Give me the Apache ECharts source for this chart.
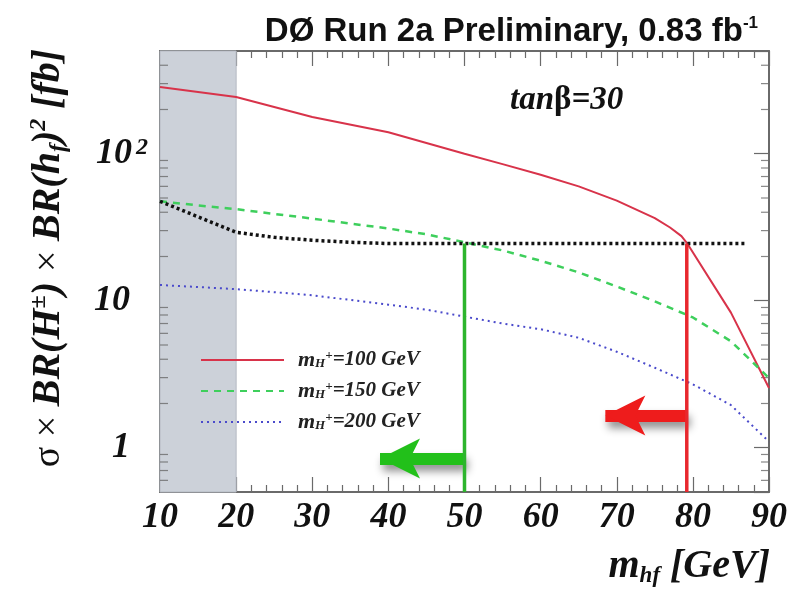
<!DOCTYPE html>
<html>
<head>
<meta charset="utf-8">
<script src="https://cdn.jsdelivr.net/npm/echarts@6/dist/echarts.min.js"></script>
<style>html,body{margin:0;padding:0;background:#fff;}#c{width:799px;height:590px;}</style>
</head>
<body>
<div id="c"></div>
<script>
// ---- data ----
const curve100 = [[10,284],[20,243],[30,178],[40,140],[50,100],[55,85],[60,72],[65,60],[70,48],[75,36.5],[77,31.5],[78.5,27.5],[79.2,24.8],[85,8.3],[90,2.55]];
const curve150 = [[10,47.5],[15,44.5],[20,42],[30,36.2],[40,31],[45,28.3],[50,25],[55,22],[60,18.7],[65,15.6],[70,12.5],[75,9.9],[80,7.7],[85,5.3],[90,2.98]];
const curve200 = [[10,12.8],[20,12.0],[30,10.9],[40,9.4],[45,8.7],[50,7.8],[55,7.0],[60,6.4],[65,5.6],[70,4.5],[75,3.5],[80,2.7],[85,1.95],[90,1.1]];
const expLimit = [[10,47.5],[20,29.2],[25,27],[30,25.8],[35,25],[40,24.5],[87,24.5]];
const limitGreen = [[50,0.5],[50,24.5]];
const limitRed = [[79.2,0.5],[79.2,24.5]];
const arrowGreen = [[50,0.845],[38.9,0.845]];
const arrowRed = [[79.2,1.66],[68.5,1.66]];
const excludedBand = [10,20];
const xRange = [10,90];
const yRange = [0.5,500];
const yTickValues = [1,10,100];
const yMinorTicks = [0.6,0.7,0.8,0.9,2,3,4,5,6,7,8,9,20,30,40,50,60,70,80,90,200,300,400];
const seriesNames = ['m100','m150','m200'];
const seriesMass = {m100:'100', m150:'150', m200:'200'};

const serif = "'Liberation Serif','DejaVu Serif',serif";
const sans = "'Liberation Sans','DejaVu Sans',sans-serif";
const axisColor = '#6a6a6a';

const chart = echarts.init(document.getElementById('c'), null, {renderer:'canvas'});

function yLabel(v){
  if (Math.abs(v-yTickValues[2]) < 1e-6) return '{b|10}{sup|2}';
  if (Math.abs(v-yTickValues[1]) < 1e-6) return '{b|10}{pad|}';
  if (Math.abs(v-yTickValues[0]) < 1e-6) return '{b|1}{pad|}';
  return '';
}

const tickFont = {fontFamily: serif, fontWeight:'bold', fontStyle:'italic', color:'#111'};

const baseX = {type:'value', min:xRange[0], max:xRange[1], interval:10, splitLine:{show:false},
  axisLine:{show:true, lineStyle:{color:axisColor, width:2}},
  axisTick:{show:true, inside:true, length:15, lineStyle:{color:axisColor, width:1.2}},
  minorTick:{show:true, splitNumber:5, length:7, lineStyle:{color:axisColor, width:1.2}}};
const baseY = {type:'log', logBase:10, min:yRange[0], max:yRange[1], splitLine:{show:false},
  axisLine:{show:true, lineStyle:{color:axisColor, width:2}},
  axisTick:{show:true, inside:true, length:15, lineStyle:{color:axisColor, width:1.2}},
  minorTick:{show:false}};

const option = {
  animation:false,
  backgroundColor:'#fff',
  grid:{left:160, right:30, top:51, bottom:98, show:false},
  xAxis:[
    Object.assign({}, baseX, {position:'bottom',
      axisLabel:Object.assign({show:true, fontSize:36, margin:8}, tickFont)}),
    Object.assign({}, baseX, {position:'top', axisLabel:{show:false}})
  ],
  yAxis:[
    Object.assign({}, baseY, {position:'left',
      axisLabel:{show:true, margin:8, showMinLabel:false, showMaxLabel:false, formatter:yLabel,
        rich:{
          b:Object.assign({fontSize:36, lineHeight:36}, tickFont),
          sup:Object.assign({fontSize:24, lineHeight:8, verticalAlign:'top', width:20, align:'left'}, tickFont),
          pad:{width:22}
        }}}),
    Object.assign({}, baseY, {position:'right', axisLabel:{show:false}})
  ],
  legend:{
    data:seriesNames, orient:'vertical', left:195, top:344, itemWidth:83, itemHeight:21, itemGap:9,
    selectedMode:false,
    itemStyle:{opacity:0},
    formatter:function(n){ return '{m|m}{sub|H}{sup|+}{t|=' + seriesMass[n] + ' GeV}'; },
    textStyle:{
      padding:[0,0,0,9],
      rich:{
        m:{fontFamily:serif, fontWeight:'bold', fontStyle:'italic', fontSize:22, color:'#222', lineHeight:21},
        sub:{fontFamily:serif, fontWeight:'bold', fontStyle:'italic', fontSize:13, color:'#222', lineHeight:4, verticalAlign:'bottom'},
        sup:{fontFamily:serif, fontWeight:'bold', fontStyle:'italic', fontSize:13, color:'#222', lineHeight:6, verticalAlign:'top'},
        t:{fontFamily:serif, fontWeight:'bold', fontStyle:'italic', fontSize:21, color:'#222', lineHeight:21}
      }
    }
  },
  series:[
    {name:'band', type:'line', data:[], silent:true, z:1,
      markArea:{silent:true, itemStyle:{color:'#ccd1d9', borderColor:'#b5bac3', borderWidth:1},
        data:[[{xAxis:excludedBand[0]},{xAxis:excludedBand[1]}]]}},
    {name:'yMinorLeft', type:'scatter', silent:true, z:3, symbol:'rect', symbolSize:[8,1.2], symbolOffset:[4,0],
      itemStyle:{color:axisColor}, data:yMinorTicks.map(v=>[xRange[0],v])},
    {name:'yMinorRight', type:'scatter', silent:true, z:3, symbol:'rect', symbolSize:[8,1.2], symbolOffset:[-4,0],
      itemStyle:{color:axisColor}, data:yMinorTicks.map(v=>[xRange[1],v])},
    {name:'m100', type:'line', data:curve100, symbol:'none', z:5, lineStyle:{color:'#d8334a', width:2}, itemStyle:{color:'#d8334a'}},
    {name:'m150', type:'line', data:curve150, symbol:'none', z:5, lineStyle:{color:'#3ecf5c', width:2.5, type:[7,6]}, itemStyle:{color:'#3ecf5c'}},
    {name:'m200', type:'line', data:curve200, symbol:'none', z:5, lineStyle:{color:'#4a4acb', width:2, type:[2,4]}, itemStyle:{color:'#4a4acb'}},
    {name:'limit', type:'line', data:expLimit, symbol:'none', z:5, lineStyle:{color:'#111', width:3.5, type:[3,3]}},
    {name:'limitGreen', type:'line', data:limitGreen, symbol:'none', z:6, lineStyle:{color:'#2db52d', width:3.5},
      markLine:{silent:true, symbol:['none','arrow'], symbolSize:[30,40], label:{show:false},
        lineStyle:{color:'#22c01a', width:12, type:'solid', shadowBlur:8, shadowColor:'rgba(0,0,0,0.45)', shadowOffsetX:3, shadowOffsetY:6},
        itemStyle:{color:'#22c01a', shadowBlur:8, shadowColor:'rgba(0,0,0,0.45)', shadowOffsetX:3, shadowOffsetY:6},
        data:[[{coord:arrowGreen[0]},{coord:arrowGreen[1]}]]}},
    {name:'limitRed', type:'line', data:limitRed, symbol:'none', z:6, lineStyle:{color:'#e8282e', width:3.5},
      markLine:{silent:true, symbol:['none','arrow'], symbolSize:[30,40], label:{show:false},
        lineStyle:{color:'#ee1c1c', width:12, type:'solid', shadowBlur:8, shadowColor:'rgba(0,0,0,0.45)', shadowOffsetX:3, shadowOffsetY:6},
        itemStyle:{color:'#ee1c1c', shadowBlur:8, shadowColor:'rgba(0,0,0,0.45)', shadowOffsetX:3, shadowOffsetY:6},
        data:[[{coord:arrowRed[0]},{coord:arrowRed[1]}]]}}
  ],
  graphic:[
    {type:'text', x:758, y:32, z:10, style:{
      text:'{t|DØ Run 2a Preliminary, 0.83 fb}{s|-1}', align:'right', verticalAlign:'middle',
      rich:{
        t:{fontFamily:sans, fontWeight:'bold', fontSize:33, fill:'#111', lineHeight:34},
        s:{fontFamily:sans, fontWeight:'bold', fontSize:17, fill:'#111', lineHeight:8, verticalAlign:'top'}
      }}},
    {type:'text', x:510, y:100, z:10, style:{
      text:'{i|tan}{g|β}{i|=30}', align:'left', verticalAlign:'middle',
      rich:{
        i:{fontFamily:serif, fontWeight:'bold', fontStyle:'italic', fontSize:33, fill:'#111'},
        g:{fontFamily:serif, fontWeight:'bold', fontSize:33, fill:'#111'}
      }}},
    {type:'text', x:49, y:258, rotation:Math.PI/2, z:10, style:{
      text:'{g|σ × }{i|BR(H}{sup|±}{i|) }{g|× }{i|BR(h}{sub|f}{i|)}{sup|2}{i| [fb]}', align:'center', verticalAlign:'middle',
      rich:{
        i:{fontFamily:serif, fontWeight:'bold', fontStyle:'italic', fontSize:40, fill:'#111', lineHeight:44},
        g:{fontFamily:serif, fontSize:38, fill:'#111', lineHeight:44},
        sup:{fontFamily:serif, fontWeight:'bold', fontStyle:'italic', fontSize:24, fill:'#111', lineHeight:10, verticalAlign:'top'},
        sub:{fontFamily:serif, fontWeight:'bold', fontStyle:'italic', fontSize:24, fill:'#111', lineHeight:6, verticalAlign:'bottom'}
      }}},
    {type:'text', x:770, y:567, z:10, style:{
      text:'{i|m}{sub|hf}{i| [GeV]}', align:'right', verticalAlign:'middle',
      rich:{
        i:{fontFamily:serif, fontWeight:'bold', fontStyle:'italic', fontSize:40, fill:'#111', lineHeight:42},
        sub:{fontFamily:serif, fontWeight:'bold', fontStyle:'italic', fontSize:23, fill:'#111', lineHeight:6, verticalAlign:'bottom'}
      }}}
  ]
};
chart.setOption(option);
</script>
</body>
</html>
